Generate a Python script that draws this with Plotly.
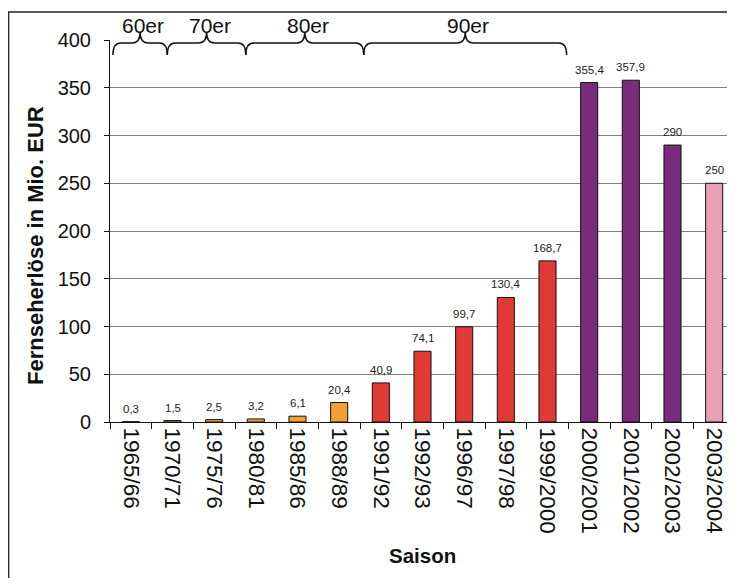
import plotly.graph_objects as go

# ---- data ----
seasons = ["1965/66", "1970/71", "1975/76", "1980/81", "1985/86", "1988/89",
           "1991/92", "1992/93", "1996/97", "1997/98", "1999/2000",
           "2000/2001", "2001/2002", "2002/2003", "2003/2004"]
revenue = [0.3, 1.5, 2.5, 3.2, 6.1, 20.4, 40.9, 74.1, 99.7, 130.4, 168.7,
           355.4, 357.9, 290, 250]
bar_group = ["early"] * 6 + ["nineties"] * 5 + ["two_thousands"] * 3 + ["forecast"]
decade_labels = ["60er", "70er", "80er", "90er"]
decade_bounds = [-0.43, 0.875, 2.76, 5.59, 10.46]   # brace limits in category units
y_ticks = [0, 50, 100, 150, 200, 250, 300, 350, 400]

group_colors = {"early": "#F0A035", "nineties": "#E03A36",
                "two_thousands": "#7A2C7C", "forecast": "#E8A0B4"}

FONT = "Liberation Sans, Arial, sans-serif"
OFF = 8                      # page body margin offset
W, H = 735 - OFF, 586 - 2 * OFF
ML, MT = 110 - OFF, 40 - OFF
plot_w = 625
MR = W - ML - plot_w
MB = H - MT - (422 - 40)
plot_h = H - MT - MB
YMAX = 400
n = len(seasons)

def px_x(c):  # category units -> paper
    return (c + 0.5) / n

def px_y(v):  # data value -> paper
    return v / YMAX

fig = go.Figure()
fig.add_trace(go.Bar(
    x=seasons, y=revenue,
    marker=dict(color=[group_colors[g] for g in bar_group],
                line=dict(color="#111111", width=1)),
    hoverinfo="x+y",
))

annotations = []
for s, v in zip(seasons, revenue):
    annotations.append(dict(x=s, y=v, xref="x", yref="y",
                            text=("%g" % v).replace(".", ","),
                            showarrow=False, yanchor="middle", yshift=13,
                            font=dict(family=FONT, size=11.5, color="#222222")))

# braces for decades
shapes = []
y_line = px_y(YMAX) - 3 / plot_h
y_end = px_y(YMAX) - 15 / plot_h
y_tip = px_y(YMAX) + 8 / plot_h
r = 0.19 / n
for i, lab in enumerate(decade_labels):
    x0 = px_x(decade_bounds[i])
    x1 = px_x(decade_bounds[i + 1])
    t = (x0 + x1) / 2
    path = (f"M {x0},{y_end} Q {x0},{y_line} {x0 + r},{y_line} "
            f"L {t - r},{y_line} Q {t},{y_line} {t},{y_tip} "
            f"Q {t},{y_line} {t + r},{y_line} "
            f"L {x1 - r},{y_line} Q {x1},{y_line} {x1},{y_end}")
    shapes.append(dict(type="path", xref="paper", yref="paper", path=path,
                       line=dict(color="#111111", width=1.5)))
    annotations.append(dict(x=t + 3 / plot_w, y=px_y(YMAX) + 14 / plot_h,
                            xref="paper", yref="paper", text=lab, showarrow=False,
                            xanchor="center", yanchor="middle",
                            font=dict(family=FONT, size=21, color="#111111")))

# outer border (left and top edges visible)
shapes.append(dict(type="rect", xref="paper", yref="paper",
                   x0=(0.7 - ML) / plot_w, x1=1.2,
                   y0=-(MB + 20) / plot_h, y1=1 + (MT - 4) / plot_h,
                   line=dict(color="#222222", width=1.3)))

# axis titles (positions given in window px, converted)
annotations.append(dict(x=(36 - 110) / plot_w, y=(422 - 246) / plot_h,
                        xref="paper", yref="paper", text="<b>Fernseherlöse in Mio. EUR</b>",
                        textangle=-90, showarrow=False, xanchor="center", yanchor="middle",
                        font=dict(family=FONT, size=22, color="#111111")))
annotations.append(dict(x=0.5, y=-(555 - 422) / plot_h,
                        xref="paper", yref="paper", text="<b>Saison</b>",
                        showarrow=False, xanchor="center", yanchor="middle",
                        font=dict(family=FONT, size=20.5, color="#111111")))

fig.update_layout(
    width=W, height=H,
    margin=dict(l=ML, r=MR, t=MT, b=MB, autoexpand=False),
    paper_bgcolor="white", plot_bgcolor="white",
    bargap=0.59,
    showlegend=False,
    font=dict(family=FONT, color="#111111"),
    shapes=shapes,
    annotations=annotations,
)
fig.update_xaxes(
    type="category", tickangle=90, tickson="boundaries", automargin=False,
    ticks="outside", ticklen=6, tickcolor="#111111",
    showline=True, linecolor="#111111", linewidth=1,
    showgrid=False, tickfont=dict(family=FONT, size=22.5, color="#111111"),
)
fig.update_yaxes(
    range=[0, YMAX], tickvals=y_ticks, ticks="outside", ticklen=5, automargin=False,
    tickcolor="#111111", showline=True, linecolor="#111111", linewidth=1,
    showgrid=True, gridcolor="#808080", gridwidth=1, zeroline=False,
    ticklabelstandoff=9,
    tickfont=dict(family=FONT, size=20, color="#111111"),
)

fig.write_html("out.html")
